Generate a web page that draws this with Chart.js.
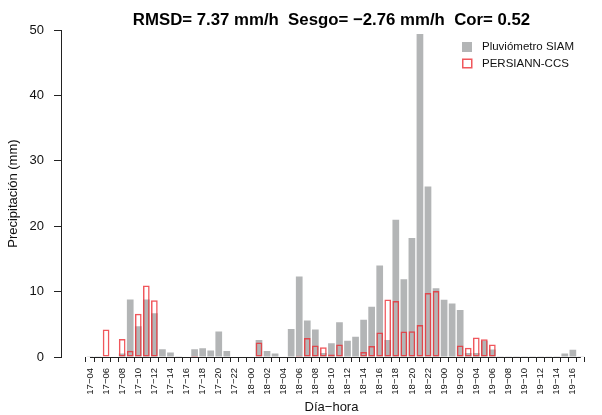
<!DOCTYPE html>
<html>
<head>
<meta charset="utf-8">
<script src="https://cdn.jsdelivr.net/npm/chart.js@4.4.1/dist/chart.umd.min.js"></script>
<style>
html,body{margin:0;padding:0;background:#fff;}
#wrap{width:602px;height:415px;}
</style>
</head>
<body>
<div id="wrap"><canvas id="c" width="602" height="415"></canvas></div>
<script>
const hours = [
"17−04","17−05","17−06","17−07","17−08","17−09","17−10","17−11","17−12","17−13",
"17−14","17−15","17−16","17−17","17−18","17−19","17−20","17−21","17−22","17−23",
"18−00","18−01","18−02","18−03","18−04","18−05","18−06","18−07","18−08","18−09",
"18−10","18−11","18−12","18−13","18−14","18−15","18−16","18−17","18−18","18−19",
"18−20","18−21","18−22","18−23","19−00","19−01","19−02","19−03","19−04","19−05",
"19−06","19−07","19−08","19−09","19−10","19−11","19−12","19−13","19−14","19−15",
"19−16","19−17"];

const siam = [
0.1,0.1,0,0,0.55,8.8,4.7,8.8,6.7,1.2,
0.7,0.1,0,1.2,1.35,1.0,3.9,0.9,0,0,
0,2.6,0.9,0.55,0,4.3,12.3,5.6,4.2,0.6,
2.1,5.3,2.5,3.1,5.7,7.7,14.0,2.6,21.0,11.9,
18.2,49.4,26.1,10.5,8.75,8.2,7.2,0.6,0.6,2.5,
1.15,0.1,0.1,0.1,0.1,0.1,0.1,0.1,0.1,0.55,1.1,0.1];

const persiann = [
null,null,4.2,null,2.75,0.95,6.6,10.95,8.7,null,
null,null,null,0.15,null,null,null,null,null,null,
null,2.2,null,null,null,null,0.2,2.9,1.75,1.5,
0.4,1.9,null,null,0.75,1.7,3.75,8.8,8.55,3.9,
3.95,4.9,9.8,10.1,null,null,1.75,1.4,3.0,2.7,
1.9,null,null,null,null,null,null,null,null,null,null,null];

const yTicks = [0,10,20,30,40,50];
const seriesNames = ["Pluviómetro SIAM","PERSIANN-CCS"];
const titleText = "RMSD= 7.37 mm/h  Sesgo= −2.76 mm/h  Cor= 0.52";

const GRAY = "#b3b5b6";
const RED = "rgba(236,40,46,0.78)";
const FONT = '"Liberation Sans", Arial, sans-serif';

const axisLine = {
  id: 'axisLine',
  afterDraw(chart) {
    const ctx = chart.ctx, xs = chart.scales.x, ca = chart.chartArea;
    ctx.save();
    ctx.strokeStyle = '#222';
    ctx.lineWidth = 1;
    ctx.beginPath();
    const y = Math.round(ca.bottom) + 0.5;
    ctx.moveTo(xs.getPixelForValue(0), y);
    ctx.lineTo(xs.getPixelForValue(hours.length - 1), y);
    ctx.stroke();
    ctx.restore();
  }
};

const legendBox = {
  id: 'legendBox',
  afterDraw(chart) {
    const ctx = chart.ctx;
    ctx.save();
    ctx.font = '11.5px ' + FONT;
    ctx.textBaseline = 'middle';
    ctx.fillStyle = GRAY;
    ctx.fillRect(462, 42, 10, 10);
    ctx.fillStyle = '#111';
    ctx.fillText(seriesNames[0], 482, 47);
    ctx.strokeStyle = RED;
    ctx.lineWidth = 1.5;
    ctx.strokeRect(462.75, 59.25, 9, 8.5);
    ctx.fillStyle = '#111';
    ctx.fillText(seriesNames[1], 482, 64);
    ctx.restore();
  }
};

new Chart(document.getElementById('c'), {
  type: 'bar',
  data: {
    datasets: [
      {
        label: seriesNames[1],
        data: persiann.map((v, i) => ({x: i, y: v})),
        backgroundColor: 'rgba(0,0,0,0)',
        borderColor: RED,
        borderWidth: 1.5,
        borderSkipped: false,
        grouped: false,
        order: 0,
        barPercentage: 0.833,
        categoryPercentage: 1
      },
      {
        label: seriesNames[0],
        data: siam.map((v, i) => ({x: i, y: v})),
        backgroundColor: GRAY,
        borderWidth: 0,
        grouped: false,
        order: 1,
        barPercentage: 0.833,
        categoryPercentage: 1
      }
    ]
  },
  options: {
    responsive: false,
    devicePixelRatio: 1,
    animation: false,
    layout: {padding: 0},
    plugins: {
      legend: {display: false},
      tooltip: {enabled: false},
      title: {
        display: true,
        text: titleText,
        fullSize: false,
        color: '#000',
        font: {family: FONT, size: 16.8, weight: 'bold'},
        padding: {top: 10, bottom: 0}
      }
    },
    scales: {
      x: {
        type: 'linear',
        min: -3.06,
        max: 63.08,
        afterBuildTicks(scale) {
          scale.ticks = hours.map((_, i) => ({value: i}));
        },
        afterFit(scale) { scale.height = 58; },
        border: {display: false},
        grid: {drawOnChartArea: false, drawTicks: true, tickLength: 5, color: '#222', lineWidth: 1},
        ticks: {
          autoSkip: false,
          minRotation: 90,
          maxRotation: 90,
          padding: 6,
          color: '#111',
          font: {family: FONT, size: 9.5},
          callback: (v) => (v % 2 === 0 ? hours[v] : '')
        },
        title: {
          display: true,
          text: 'Día−hora',
          color: '#111',
          font: {family: FONT, size: 13},
          padding: {top: 0, bottom: 0}
        }
      },
      y: {
        min: 0,
        max: 50,
        afterBuildTicks(scale) {
          scale.ticks = yTicks.map(v => ({value: v}));
        },
        afterFit(scale) { scale.width = 61; },
        border: {display: true, color: '#222', width: 1},
        grid: {drawOnChartArea: false, drawTicks: true, tickLength: 7, color: '#222'},
        ticks: {
          padding: 10,
          color: '#111',
          font: {family: FONT, size: 13}
        },
        title: {
          display: true,
          text: 'Precipitación (mm)',
          color: '#111',
          font: {family: FONT, size: 13},
          padding: {top: 6, bottom: 0}
        }
      }
    }
  },
  plugins: [axisLine, legendBox]
});
</script>
</body>
</html>
